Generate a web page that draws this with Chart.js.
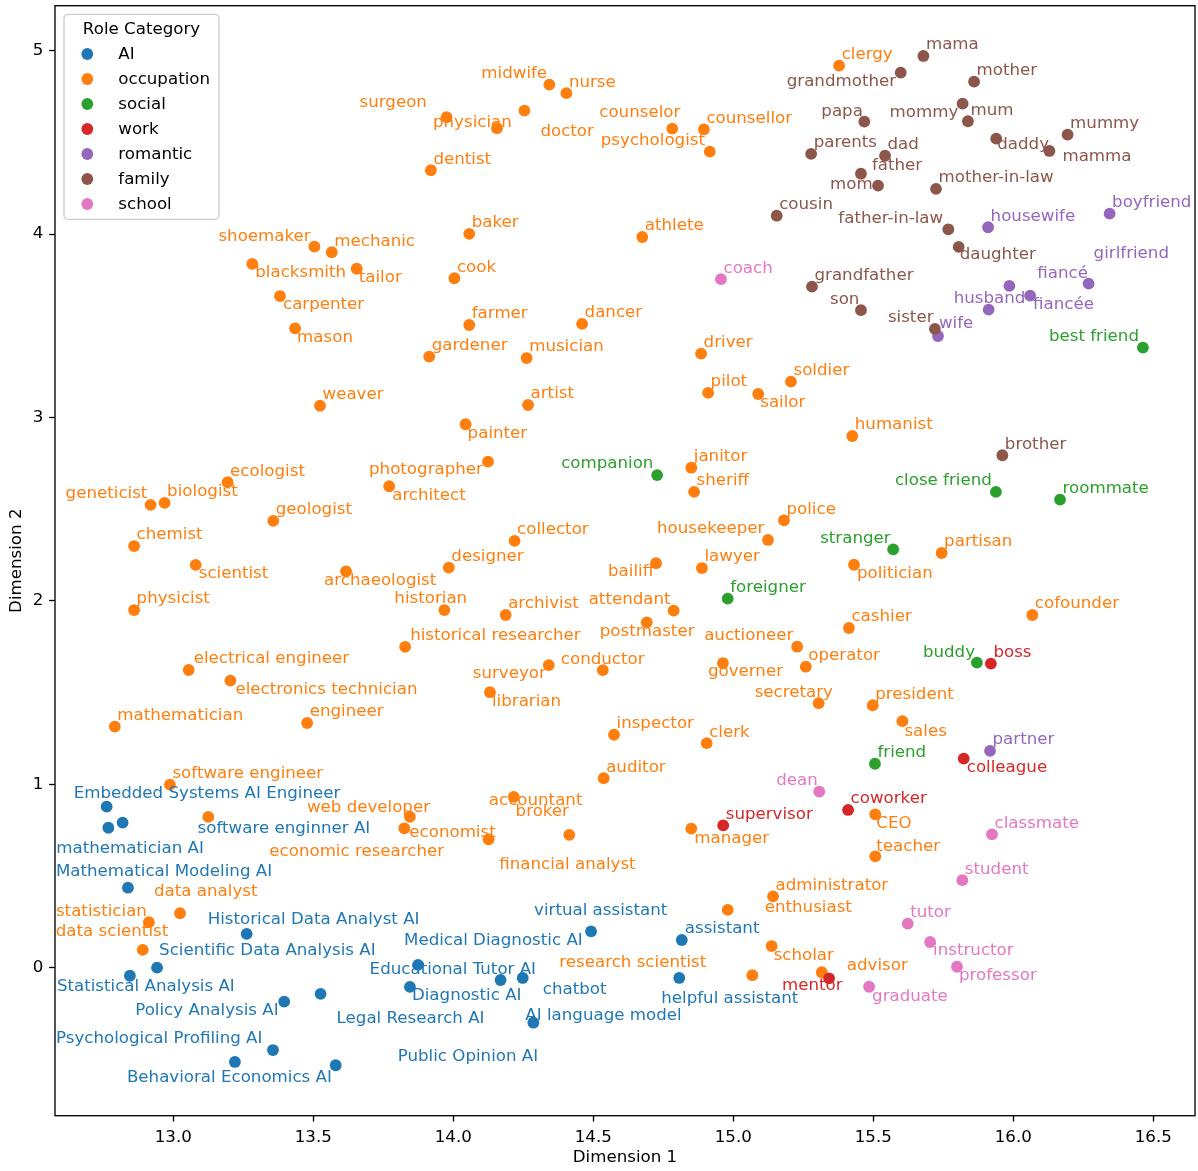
<!DOCTYPE html>
<html>
<head>
<meta charset="utf-8">
<script src="https://cdn.jsdelivr.net/npm/chart.js@4.4.0/dist/chart.umd.min.js"></script>
<style>
  html, body { margin: 0; padding: 0; background: #fff; }
  canvas { display: block; }
</style>
</head>
<body>
<canvas id="roleChart" width="1198" height="1171"></canvas>
<script>
// categories and their roles, coordinates
const categories = ['AI', 'occupation', 'social', 'work', 'romantic', 'family', 'school'];

const aiRoles = ['Embedded Systems AI Engineer', 'software enginner AI', 'mathematician AI', 'Mathematical Modeling AI',
  'Historical Data Analyst AI', 'Scientific Data Analysis AI', 'Statistical Analysis AI', 'Policy Analysis AI',
  'Legal Research AI', 'Psychological Profiling AI', 'Behavioral Economics AI', 'Public Opinion AI',
  'Medical Diagnostic AI', 'Educational Tutor AI', 'chatbot', 'Diagnostic AI',
  'AI language model', 'virtual assistant', 'assistant', 'helpful assistant'];
const aiX = [12.762, 12.819, 12.768, 12.838, 13.262, 12.942, 12.845, 13.396, 13.526, 13.356,
  13.220, 13.580, 13.874, 14.169, 14.248, 13.845, 14.286, 14.492, 14.816, 14.807];
const aiY = [0.878, 0.791, 0.763, 0.436, 0.184, 0.000, -0.044, -0.185, -0.143, -0.449,
  -0.514, -0.532, 0.015, -0.067, -0.056, -0.105, -0.300, 0.198, 0.151, -0.056];

const occupationRoles = ['clergy', 'midwife', 'nurse', 'surgeon', 'physician', 'doctor', 'counselor', 'counsellor', 'psychologist', 'dentist',
  'shoemaker', 'mechanic', 'blacksmith', 'tailor', 'baker', 'cook', 'athlete', 'carpenter', 'mason', 'farmer',
  'dancer', 'gardener', 'musician', 'driver', 'soldier', 'pilot', 'sailor', 'weaver', 'artist', 'painter',
  'humanist', 'photographer', 'architect', 'ecologist', 'geneticist', 'biologist', 'geologist', 'janitor', 'sheriff', 'police',
  'housekeeper', 'collector', 'chemist', 'partisan', 'designer', 'scientist', 'archaeologist', 'bailiff', 'lawyer', 'politician',
  'physicist', 'historian', 'archivist', 'attendant', 'postmaster', 'cofounder', 'cashier', 'historical researcher', 'auctioneer', 'electrical engineer',
  'surveyor', 'conductor', 'governer', 'operator', 'electronics technician', 'librarian', 'secretary', 'president', 'mathematician', 'engineer',
  'sales', 'inspector', 'clerk', 'auditor', 'software engineer', 'accountant', 'web developer', 'economic researcher', 'economist', 'broker',
  'financial analyst', 'manager', 'CEO', 'teacher', 'data analyst', 'statistician', 'data scientist', 'administrator', 'enthusiast', 'scholar',
  'research scientist', 'advisor'];
const occupationX = [15.378, 14.343, 14.404, 13.976, 14.156, 14.254, 14.782, 14.895, 14.916, 13.920,
  13.504, 13.566, 13.282, 13.655, 14.057, 14.004, 14.675, 13.381, 13.435, 14.057,
  14.460, 13.914, 14.262, 14.885, 15.206, 14.910, 15.089, 13.524, 14.267, 14.044,
  15.425, 14.124, 13.771, 13.194, 12.919, 12.969, 13.357, 14.850, 14.860, 15.181,
  15.124, 14.219, 12.860, 15.744, 13.984, 13.080, 13.617, 14.724, 14.888, 15.431,
  12.860, 13.968, 14.187, 14.787, 14.691, 16.068, 15.413, 13.828, 15.228, 13.055,
  14.341, 14.534, 14.963, 15.259, 13.204, 14.131, 15.305, 15.498, 12.791, 13.478,
  15.604, 14.574, 14.905, 14.537, 12.988, 14.216, 13.845, 13.125, 13.825, 14.126,
  14.414, 14.850, 15.507, 15.507, 13.024, 12.913, 12.891, 15.142, 14.980, 15.137,
  15.068, 15.316];
const occupationY = [4.918, 4.815, 4.768, 4.637, 4.577, 4.673, 4.575, 4.571, 4.449, 4.348,
  3.931, 3.901, 3.837, 3.811, 4.001, 3.759, 3.984, 3.662, 3.486, 3.504,
  3.510, 3.332, 3.324, 3.348, 3.195, 3.134, 3.128, 3.064, 3.068, 2.963,
  2.899, 2.759, 2.625, 2.647, 2.523, 2.534, 2.436, 2.726, 2.594, 2.439,
  2.332, 2.327, 2.299, 2.261, 2.181, 2.196, 2.161, 2.205, 2.179, 2.197,
  1.950, 1.950, 1.923, 1.947, 1.883, 1.923, 1.852, 1.749, 1.750, 1.623,
  1.650, 1.622, 1.661, 1.641, 1.565, 1.502, 1.442, 1.431, 1.314, 1.334,
  1.344, 1.270, 1.224, 1.033, 0.998, 0.931, 0.823, 0.822, 0.760, 0.700,
  0.724, 0.758, 0.836, 0.607, 0.297, 0.248, 0.097, 0.389, 0.315, 0.118,
  -0.041, -0.025];

const socialRoles = ['best friend', 'companion', 'close friend', 'roommate', 'stranger', 'foreigner', 'buddy', 'friend'];
const socialX = [16.463, 14.728, 15.938, 16.167, 15.571, 14.980, 15.870, 15.506];
const socialY = [3.381, 2.686, 2.594, 2.552, 2.281, 2.012, 1.663, 1.112];

const workRoles = ['boss', 'colleague', 'coworker', 'supervisor', 'mentor'];
const workX = [15.920, 15.823, 15.410, 14.964, 15.342];
const workY = [1.658, 1.140, 0.860, 0.776, -0.058];

const romanticRoles = ['housewife', 'boyfriend', 'girlfriend', 'fiancé', 'fiancée', 'husband', 'wife', 'partner'];
const romanticX = [15.910, 16.344, 16.269, 15.986, 16.060, 15.912, 15.731, 15.917];
const romanticY = [4.037, 4.111, 3.730, 3.717, 3.664, 3.588, 3.444, 1.182];

const familyRoles = ['mama', 'grandmother', 'mother', 'papa', 'mommy', 'mum', 'daddy', 'mummy', 'mamma', 'parents',
  'dad', 'father', 'mom', 'mother-in-law', 'cousin', 'father-in-law', 'daughter', 'grandfather', 'son', 'sister', 'brother'];
const familyX = [15.679, 15.598, 15.860, 15.468, 15.819, 15.838, 15.939, 16.194, 16.129, 15.278,
  15.542, 15.456, 15.517, 15.724, 15.155, 15.768, 15.805, 15.281, 15.456, 15.720, 15.961];
const familyY = [4.971, 4.880, 4.831, 4.613, 4.711, 4.615, 4.520, 4.542, 4.453, 4.437,
  4.427, 4.329, 4.264, 4.246, 4.100, 4.026, 3.930, 3.713, 3.585, 3.483, 2.794];

const schoolRoles = ['coach', 'dean', 'classmate', 'student', 'tutor', 'instructor', 'professor', 'graduate'];
const schoolX = [14.956, 15.307, 15.924, 15.818, 15.623, 15.703, 15.799, 15.485];
const schoolY = [3.754, 0.960, 0.727, 0.477, 0.240, 0.140, 0.005, -0.104];

const xTicks = [13.0, 13.5, 14.0, 14.5, 15.0, 15.5, 16.0, 16.5];
const yTicks = [0, 1, 2, 3, 4, 5];

// style / layout below
const palette = ['#1f77b4', '#ff7f0e', '#2ca02c', '#d62728', '#9467bd', '#8c564b', '#e377c2'];

// where each label sits relative to its dot, in pixels (left edge, middle of text)
const labelOffsets = {
  'Embedded Systems AI Engineer': [-33, -13], 'software enginner AI': [75, 6], 'mathematician AI': [-52, 21],
  'Mathematical Modeling AI': [-72, -16], 'Historical Data Analyst AI': [-39, -14], 'Scientific Data Analysis AI': [2, -17],
  'Statistical Analysis AI': [-73, 11], 'Policy Analysis AI': [-149, 9], 'Legal Research AI': [16, 25],
  'Psychological Profiling AI': [-217, -11], 'Behavioral Economics AI': [-108, 16], 'Public Opinion AI': [62, -9],
  'Medical Diagnostic AI': [-14, -24], 'Educational Tutor AI': [-131, -10], 'chatbot': [20, 12],
  'Diagnostic AI': [2, 9], 'AI language model': [-8, -7], 'virtual assistant': [-57, -21],
  'assistant': [3, -11], 'helpful assistant': [-18, 21],

  'midwife': [-68, -11], 'surgeon': [-87, -15], 'physician': [-64, -6], 'doctor': [16, 21],
  'counselor': [-73, -16], 'psychologist': [-109, -11], 'shoemaker': [-96, -10],
  'blacksmith': [3, 9], 'tailor': [2, 9], 'carpenter': [3, 9], 'mason': [2, 9], 'sailor': [2, 9], 'painter': [2, 9],
  'photographer': [-119, 8], 'architect': [3, 9], 'geneticist': [-85, -11], 'housekeeper': [-111, -11],
  'scientist': [3, 9], 'archaeologist': [-22, 9], 'bailiff': [-48, 8], 'politician': [3, 9],
  'historian': [-50, -11], 'attendant': [-85, -11], 'postmaster': [-47, 9], 'historical researcher': [5, -11],
  'auctioneer': [-93, -11], 'electrical engineer': [5, -11], 'surveyor': [-76, 9], 'conductor': [-42, -11],
  'governer': [-15, 9], 'electronics technician': [5, 9], 'librarian': [2, 9], 'secretary': [-64, -11],
  'sales': [2, 10], 'accountant': [-25, 4], 'web developer': [-103, -9], 'economic researcher': [61, 35],
  'economist': [5, 4], 'broker': [27, -28], 'financial analyst': [-70, 30], 'manager': [3, 10],
  'CEO': [1, 9], 'teacher': [1, -10], 'data analyst': [-26, -22], 'statistician': [-93, -11],
  'data scientist': [-87, -18], 'enthusiast': [37, -2], 'scholar': [2, 10], 'research scientist': [-193, -13],
  'advisor': [25, -7],

  'best friend': [-94, -11], 'companion': [-96, -11], 'close friend': [-101, -11], 'stranger': [-73, -11],
  'buddy': [-54, -10],
  'colleague': [3, 9], 'mentor': [-47, 7],
  'girlfriend': [5, -30], 'fiancé': [28, -12], 'fiancée': [3, 9], 'husband': [-35, -11], 'wife': [1, -12],
  'grandmother': [-114, 9], 'papa': [-43, -10], 'mommy': [-73, 9], 'daddy': [1, 6], 'mamma': [13, 6],
  'father': [11, -8], 'mom': [-48, -1], 'father-in-law': [-110, -11], 'daughter': [1, 8], 'son': [-31, -10],
  'sister': [-47, -11],
  'dean': [-43, -11], 'instructor': [3, 9], 'professor': [2, 9], 'graduate': [3, 10]
};

const groups = [
  [aiRoles, aiX, aiY],
  [occupationRoles, occupationX, occupationY],
  [socialRoles, socialX, socialY],
  [workRoles, workX, workY],
  [romanticRoles, romanticX, romanticY],
  [familyRoles, familyX, familyY],
  [schoolRoles, schoolX, schoolY]
];

const FONT = 'DejaVu Sans';
const FS = 16.67;

const datasets = groups.map(([names, xs, ys], i) => ({
  label: categories[i],
  data: names.map((n, j) => ({ x: xs[j], y: ys[j], name: n })),
  backgroundColor: palette[i],
  borderWidth: 0,
  pointRadius: 5.9,
  pointHoverRadius: 5.9,
  order: categories.length - i // later categories drawn on top
}));

const labelPlugin = {
  id: 'roleLabels',
  afterDatasetsDraw(chart) {
    const ctx = chart.ctx;
    const area = chart.chartArea;
    ctx.save();
    ctx.strokeStyle = '#000';
    ctx.lineWidth = 1.33;
    ctx.strokeRect(area.left, area.top, area.right - area.left, area.bottom - area.top);

    ctx.font = FS + 'px "' + FONT + '"';
    ctx.textAlign = 'left';
    ctx.textBaseline = 'middle';
    chart.data.datasets.forEach((ds, i) => {
      const meta = chart.getDatasetMeta(i);
      ctx.fillStyle = ds.backgroundColor;
      meta.data.forEach((pt, j) => {
        const name = ds.data[j].name;
        const off = labelOffsets[name] || [2.5, -11];
        ctx.fillText(name, pt.x + off[0], pt.y + off[1]);
      });
    });
    ctx.restore();
  },
  afterDraw(chart) {
    // legend box in the upper left, matplotlib style
    const ctx = chart.ctx;
    const area = chart.chartArea;
    const bx = area.left + 9, by = area.top + 8.6, bw = 155, bh = 205;
    ctx.save();
    ctx.beginPath();
    ctx.roundRect(bx, by, bw, bh, 4);
    ctx.fillStyle = 'rgba(255,255,255,0.8)';
    ctx.fill();
    ctx.strokeStyle = '#cccccc';
    ctx.lineWidth = 1.33;
    ctx.stroke();

    ctx.font = FS + 'px "' + FONT + '"';
    ctx.fillStyle = '#000';
    ctx.textBaseline = 'alphabetic';
    ctx.textAlign = 'center';
    ctx.fillText('Role Category', bx + bw / 2, by + 20);
    ctx.textAlign = 'left';
    chart.data.datasets.forEach((ds, i) => {
      const cy = by + 39.7 + i * 25;
      ctx.beginPath();
      ctx.arc(bx + 23.3, cy, 5.9, 0, Math.PI * 2);
      ctx.fillStyle = ds.backgroundColor;
      ctx.fill();
      ctx.fillStyle = '#000';
      ctx.fillText(ds.label, bx + 54.3, cy + 5.3);
    });
    ctx.restore();
  }
};

new Chart(document.getElementById('roleChart'), {
  type: 'scatter',
  data: { datasets: datasets },
  options: {
    responsive: false,
    devicePixelRatio: 1,
    animation: false,
    layout: { padding: { left: 0, top: 5.7, right: 3, bottom: 0 }, autoPadding: false },
    plugins: {
      legend: { display: false },
      tooltip: { enabled: false }
    },
    scales: {
      x: {
        type: 'linear',
        min: 12.5775,
        max: 16.649,
        afterBuildTicks: s => { s.ticks = xTicks.map(v => ({ value: v })); },
        afterFit: s => { s.height = 55.3; s.paddingLeft = 0; s.paddingRight = 0; },
        ticks: {
          callback: v => Number(v).toFixed(1),
          color: '#000',
          font: { family: FONT, size: FS },
          padding: 5.83,
          autoSkip: false,
          maxRotation: 0,
          includeBounds: false
        },
        grid: { display: true, drawOnChartArea: false, drawTicks: true, tickLength: 5.83, tickWidth: 1.33, tickColor: '#000' },
        border: { display: false },
        title: { display: true, text: 'Dimension 1', color: '#000', font: { family: FONT, size: FS }, padding: { top: 0, bottom: 3 } }
      },
      y: {
        type: 'linear',
        min: -0.807,
        max: 5.245,
        afterBuildTicks: s => { s.ticks = yTicks.map(v => ({ value: v })); },
        afterFit: s => { s.width = 55; s.paddingTop = 0; s.paddingBottom = 0; },
        ticks: {
          callback: v => String(v),
          color: '#000',
          font: { family: FONT, size: FS },
          padding: 5.83,
          autoSkip: false,
          includeBounds: false
        },
        grid: { display: true, drawOnChartArea: false, drawTicks: true, tickLength: 5.83, tickWidth: 1.33, tickColor: '#000' },
        border: { display: false },
        title: { display: true, text: 'Dimension 2', color: '#000', font: { family: FONT, size: FS }, padding: { top: 7, bottom: 0 } }
      }
    }
  },
  plugins: [labelPlugin]
});
</script>
</body>
</html>
